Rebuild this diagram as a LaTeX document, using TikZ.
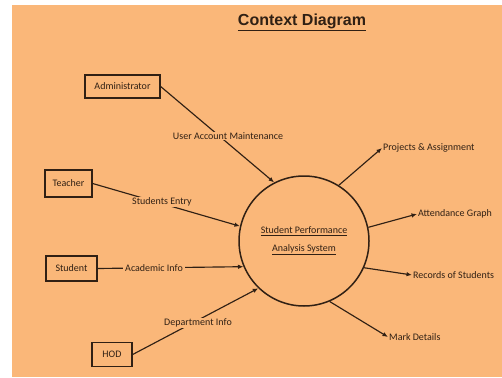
\documentclass[tikz,border=0pt]{standalone}
\usepackage{fontspec}
\setmainfont{Carlito}
\newfontfamily\titlefont{Liberation Sans}
\usetikzlibrary{arrows.meta}
\definecolor{bgorange}{RGB}{250,183,121}
\definecolor{ink}{RGB}{48,32,20}
\begin{document}
\begin{tikzpicture}[x=1pt,y=-1pt,
  every node/.style={text=ink,font=\fontsize{10}{12}\selectfont},
  entity/.style={draw=ink,line width=1.3pt,minimum height=24pt,inner sep=0pt},
  flow/.style={draw=ink,line width=1.15pt,-{Latex[length=5.5pt,width=4.5pt]}},
  lbl/.style={fill=bgorange,inner xsep=2pt,inner ysep=1pt},
  outlbl/.style={anchor=west,inner sep=1pt}]
  % canvas
  \useasboundingbox (0,0) rectangle (502,377);
  \fill[white] (0,0) rectangle (502,377);
  \fill[bgorange] (12,5) rectangle (502,377);

  % title
  \node[font=\titlefont\bfseries\fontsize{16}{18}\selectfont] (title) at (302,22) {\underline{Context Diagram}};

  % process
  \node[draw=ink,line width=1.5pt,circle,minimum size=130pt,inner sep=0pt,align=center,
        font=\fontsize{10}{18}\selectfont] (sys) at (304,241)
        {\underline{Student Performance}\\\underline{Analysis System}};

  % external entities
  \node[entity,minimum width=75pt,minimum height=23pt] (admin) at (122.5,86.5) {Administrator};
  \node[entity,minimum width=47pt,minimum height=27pt] (teacher) at (68.5,183.5) {Teacher};
  \node[entity,minimum width=51pt,minimum height=25pt] (student) at (71.5,268.5) {Student};
  \node[entity,minimum width=40pt,minimum height=24pt] (hod) at (112,354.5) {HOD};

  % incoming flows
  \draw[flow] (admin.east) -- (sys.117);
  \node[lbl] (uam) at (228,136) {User Account Maintenance};

  \draw[flow] (teacher.east) -- (sys.167);
  \node[lbl] (entry) at (162,202) {Students Entry};

  \draw[flow] (student.east) -- (sys.203);
  \node[lbl] (acad) at (154,268) {Academic Info};

  \draw[flow] (hod.east) -- (sys.226);
  \node[lbl] (dept) at (198,323) {Department Info};

  % outgoing flows
  \node[outlbl] (proj) at (382,148) {Projects \& Assignment};
  \node[outlbl] (att) at (417,214) {Attendance Graph};
  \node[outlbl] (rec) at (412,275) {Records of Students};
  \node[outlbl] (mark) at (388,337) {Mark Details};

  \draw[flow] (sys.58) -- (proj.west);
  \draw[flow] (sys.12) -- (att.west);
  \draw[flow] (sys.-24) -- (rec.west);
  \draw[flow] (sys.-67) -- (mark.west);
\end{tikzpicture}
\end{document}
